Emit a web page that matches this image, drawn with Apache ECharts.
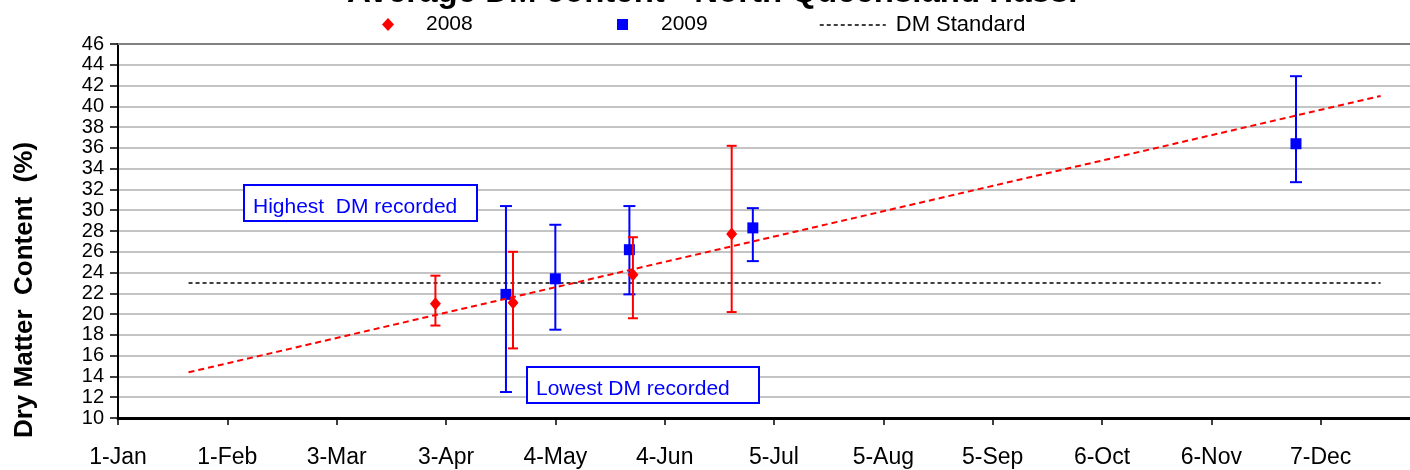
<!DOCTYPE html>
<html>
<head>
<meta charset="utf-8">
<script src="https://cdn.jsdelivr.net/npm/echarts@6/dist/echarts.min.js"></script>
<style>html,body{margin:0;padding:0;background:#fff;}#chart{width:1410px;height:470px;}</style>
</head>
<body>
<div id="chart"></div>
<script>
// x values are day-of-year offsets from 1-Jan (leap year 2008)
const xTickLabels = ['1-Jan','1-Feb','3-Mar','3-Apr','4-May','4-Jun','5-Jul','5-Aug','5-Sep','6-Oct','6-Nov','7-Dec'];
const days2008 = [90, 112, 146, 174];
const dm2008 = [21.0, 21.1, 23.8, 27.7];
const hi2008 = [23.7, 26.0, 27.4, 36.2];
const lo2008 = [18.9, 16.7, 19.6, 20.2];
const days2009 = [110, 124, 145, 180, 334];
const dm2009 = [21.9, 23.4, 26.2, 28.3, 36.4];
const hi2009 = [30.4, 28.6, 30.4, 30.2, 42.9];
const lo2009 = [12.5, 18.5, 21.9, 25.1, 32.7];
const trendDays = [20, 358];
const trendDM = [14.4, 41.0];
const standardDays = [20, 358];
const standardDM = [23, 23];

const FONT = "'Liberation Sans', Arial, sans-serif";
const chart = echarts.init(document.getElementById('chart'));

function errRender(color, capHalf) {
  return function (params, api) {
    const x = api.value(0), lo = api.value(1), hi = api.value(2);
    const pHi = api.coord([x, hi]);
    const pLo = api.coord([x, lo]);
    const style = { stroke: color, lineWidth: 2 };
    return {
      type: 'group',
      children: [
        { type: 'line', shape: { x1: pHi[0], y1: pHi[1], x2: pLo[0], y2: pLo[1] }, style: style },
        { type: 'line', shape: { x1: pHi[0] - capHalf, y1: pHi[1], x2: pHi[0] + capHalf, y2: pHi[1] }, style: style },
        { type: 'line', shape: { x1: pLo[0] - capHalf, y1: pLo[1], x2: pLo[0] + capHalf, y2: pLo[1] }, style: style }
      ]
    };
  };
}

const zip = (a, b) => a.map((v, i) => [v, b[i]]);
const zip3 = (a, b, c) => a.map((v, i) => [v, b[i], c[i]]);

chart.setOption({
  animation: false,
  textStyle: { fontFamily: FONT },
  title: {
    text: 'Average DM content - North Queensland Hass.',
    left: 347,
    top: -23.5,
    padding: 0,
    textStyle: { fontFamily: FONT, fontSize: 33, fontWeight: 'bold', color: '#000' }
  },
  legend: [
    { data: ['2008'], left: 377, top: 9, itemWidth: 12, itemHeight: 13, icon: 'diamond',
      textStyle: { fontFamily: FONT, fontSize: 21, color: '#000', padding: [0, 0, 0, 27] } },
    { data: ['2009'], left: 612, top: 9, itemWidth: 11, itemHeight: 11, icon: 'rect',
      textStyle: { fontFamily: FONT, fontSize: 21, color: '#000', padding: [0, 0, 0, 28] } },
    { data: ['DM Standard'], left: 814, top: 9, itemWidth: 66, itemHeight: 14,
      itemStyle: { opacity: 0 },
      lineStyle: { color: '#000', width: 1.5, type: [4, 3] },
      textStyle: { fontFamily: FONT, fontSize: 22, color: '#000', padding: [0, 0, 0, 5] } }
  ],
  grid: { left: 118, right: -20, top: 44, bottom: 52, outerBoundsMode: 'none', containLabel: false },
  xAxis: [
    {
      type: 'value', min: 0, max: 372, interval: 31,
      axisLine: { show: true, lineStyle: { color: '#000', width: 3 } },
      axisTick: { show: true, length: 7, lineStyle: { color: '#000', width: 1.5 } },
      axisLabel: {
        margin: 28, fontSize: 23, color: '#000', fontFamily: FONT,
        formatter: v => (v % 31 === 0 && xTickLabels[v / 31] ? xTickLabels[v / 31] : '')
      },
      splitLine: { show: false }
    },
    {
      type: 'value', min: 0, max: 372, position: 'top',
      axisLine: { show: true, lineStyle: { color: '#808080', width: 2 } },
      axisTick: { show: false }, axisLabel: { show: false }, splitLine: { show: false }
    }
  ],
  yAxis: {
    type: 'value', min: 10, max: 46, interval: 2,
    axisLine: { show: true, lineStyle: { color: '#000', width: 2 } },
    axisTick: { show: true, length: 8, lineStyle: { color: '#000', width: 1.5 } },
    axisLabel: { margin: 14, fontSize: 20, color: '#000', fontFamily: FONT, lineHeight: 20 },
    splitLine: { show: true, lineStyle: { color: '#c4c4c4', width: 2 } }
  },
  graphic: [
    { type: 'text', x: 25, y: 290, rotation: Math.PI / 2,
      style: { text: 'Dry Matter  Content  (%)', fontFamily: FONT, fontSize: 26, fontWeight: 'bold',
        fill: '#000', textAlign: 'center', textVerticalAlign: 'middle' } },
    { type: 'rect', shape: { x: 244, y: 185, width: 233, height: 36 },
      style: { fill: '#fff', stroke: '#0000ff', lineWidth: 2 }, z: 50 },
    { type: 'text', x: 253, y: 207,
      style: { text: 'Highest  DM recorded', fontFamily: FONT, fontSize: 21, fill: '#0000ff',
        textVerticalAlign: 'middle' }, z: 51 },
    { type: 'rect', shape: { x: 527, y: 367, width: 232, height: 36 },
      style: { fill: '#fff', stroke: '#0000ff', lineWidth: 2 }, z: 50 },
    { type: 'text', x: 536, y: 389,
      style: { text: 'Lowest DM recorded', fontFamily: FONT, fontSize: 21, fill: '#0000ff',
        textVerticalAlign: 'middle' }, z: 51 }
  ],
  series: [
    {
      name: 'DM Standard', type: 'line', data: zip(standardDays, standardDM),
      symbol: 'none', lineStyle: { color: '#000', width: 1.5, type: [4, 3] },
      itemStyle: { color: '#000' }, z: 3
    },
    {
      name: '2009 err', type: 'custom', renderItem: errRender('#0000ff', 6),
      data: zip3(days2009, lo2009, hi2009), encode: { x: 0, y: [1, 2] }, z: 4
    },
    {
      name: '2009', type: 'scatter', data: zip(days2009, dm2009),
      symbol: 'rect', symbolSize: 11, itemStyle: { color: '#0000ff', opacity: 1 }, z: 5
    },
    {
      name: '2008 err', type: 'custom', renderItem: errRender('#ff0000', 5),
      data: zip3(days2008, lo2008, hi2008), encode: { x: 0, y: [1, 2] }, z: 6
    },
    {
      name: '2008', type: 'scatter', data: zip(days2008, dm2008),
      symbol: 'diamond', symbolSize: [11, 13], itemStyle: { color: '#ff0000', opacity: 1 }, z: 7
    },
    {
      name: 'Trend', type: 'line', data: zip(trendDays, trendDM),
      symbol: 'none', lineStyle: { color: '#ff0000', width: 2, type: [6, 4] }, z: 8
    }
  ]
});
</script>
</body>
</html>
